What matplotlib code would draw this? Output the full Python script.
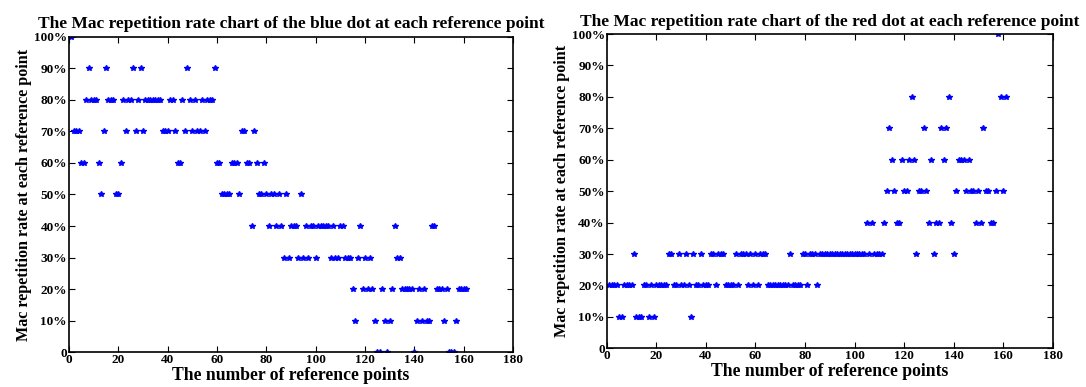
import numpy as np
import matplotlib
matplotlib.use("Agg")
import matplotlib.pyplot as plt
from matplotlib.ticker import FixedLocator

plt.rcParams["font.family"] = ["Liberation Serif", "DejaVu Serif"]
plt.rcParams["font.weight"] = "bold"

# repetition rate (%) per reference point, blue dot
blue_rate = [
    100, 70, 70, 70, 60, 60, 80, 90, 80, 80,
    80, 60, 50, 70, 90, 80, 80, 80, 50, 50,
    60, 80, 70, 80, 80, 90, 70, 80, 90, 70,
    80, 80, 80, 80, 80, 80, 80, 70, 70, 70,
    80, 80, 70, 60, 60, 80, 70, 90, 80, 70,
    80, 70, 70, 80, 70, 80, 80, 80, 90, 60,
    60, 50, 50, 50, 50, 60, 60, 60, 50, 70,
    70, 60, 60, 40, 70, 60, 50, 50, 60, 50,
    40, 50, 50, 40, 50, 40, 30, 50, 30, 40,
    40, 40, 30, 50, 30, 40, 30, 40, 40, 30,
    40, 40, 40, 40, 40, 30, 40, 30, 30, 40,
    40, 30, 30, 30, 20, 10, 30, 40, 20, 30,
    20, 30, 20, 10, 0, 0, 20, 10, 0, 10,
    20, 40, 30, 30, 20, 20, 20, 20, 20, 0,
    10, 20, 10, 20, 10, 10, 40, 40, 20, 20,
    20, 10, 20, 0, 0, 0, 10, 20, 20, 20,
    20,
]

# repetition rate (%) per reference point, red dot
red_rate = [
    20, 20, 20, 20, 10, 10, 20, 20, 20, 20,
    30, 10, 10, 10, 20, 20, 10, 20, 10, 20,
    20, 20, 20, 20, 30, 30, 20, 20, 30, 20,
    20, 30, 20, 10, 30, 20, 20, 30, 20, 20,
    20, 30, 30, 20, 30, 30, 30, 20, 20, 20,
    20, 30, 20, 30, 30, 30, 20, 30, 20, 30,
    20, 30, 30, 30, 20, 20, 20, 20, 20, 20,
    20, 20, 20, 30, 20, 20, 20, 20, 30, 30,
    20, 30, 30, 30, 20, 30, 30, 30, 30, 30,
    30, 30, 30, 30, 30, 30, 30, 30, 30, 30,
    30, 30, 30, 30, 40, 30, 40, 30, 30, 30,
    30, 40, 50, 70, 60, 50, 40, 40, 60, 50,
    50, 60, 80, 60, 30, 50, 50, 70, 50, 40,
    60, 30, 40, 40, 70, 60, 70, 80, 40, 30,
    50, 60, 60, 60, 50, 60, 50, 50, 40, 50,
    40, 70, 50, 50, 40, 40, 50, 100, 80, 50,
    80,
]

titles = [
    "The Mac repetition rate chart of the blue dot at each reference point",
    "The Mac repetition rate chart of the red dot at each reference point",
]
x_ticks = list(range(0, 181, 20))
y_ticks = list(range(0, 101, 10))
y_labels = ["0"] + [f"{v}%" for v in y_ticks[1:]]

fig = plt.figure(figsize=(10.86, 3.87), dpi=100)
ax_l = fig.add_axes([0.0635, 0.090, 0.409, 0.815])
ax_r = fig.add_axes([0.5587, 0.100, 0.4107, 0.812])

for ax, rate, title in zip([ax_l, ax_r], [blue_rate, red_rate], titles):
    x = np.arange(1, len(rate) + 1)
    ax.plot(x, rate, linestyle="none", marker="*", markersize=3.8,
            color="#0000ff", markeredgewidth=1.0)
    ax.set_xlim(0, 180)
    ax.set_ylim(0, 100)
    ax.xaxis.set_major_locator(FixedLocator(x_ticks))
    ax.yaxis.set_major_locator(FixedLocator(y_ticks))
    ax.set_yticklabels(y_labels)
    ax.tick_params(direction="in", top=True, right=True, length=4,
                   width=0.8, labelsize=9.5, pad=1.5)
    for lab in ax.get_xticklabels() + ax.get_yticklabels():
        lab.set_fontweight("bold")
    for sp in ax.spines.values():
        sp.set_linewidth(1.2)
    ax.set_title(title, fontsize=12.5, fontweight="bold", pad=6)
    ax.set_xlabel("The number of reference points", fontsize=12.7,
                  fontweight="bold", labelpad=0.5)
    ax.set_ylabel("Mac repetition rate at each reference point", fontsize=11.6,
                  fontweight="bold", labelpad=1)

fig.savefig("out.png", dpi=100, facecolor="white")
